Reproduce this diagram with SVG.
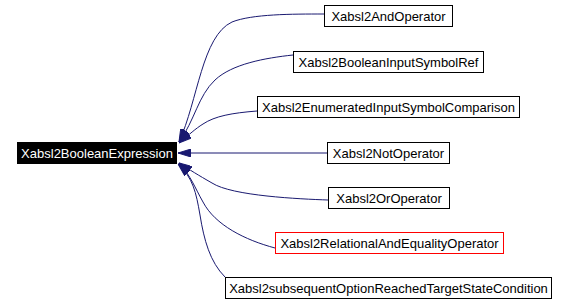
<svg xmlns="http://www.w3.org/2000/svg" width="567" height="305" viewBox="0 0 567 305">
<style>
.box{fill:#ffffff;stroke:#000000;stroke-width:1}
.red{fill:#ffffff;stroke:#ff0000;stroke-width:1}
.main{fill:#000000;stroke:#000000;stroke-width:1}
text{font-family:"Liberation Sans",Arial,sans-serif;font-size:13px;text-anchor:middle}
.edge{fill:none;stroke:#191970;stroke-width:1}
</style>
<defs>
<marker id="ah" viewBox="0 0 13 8" refX="13" refY="4" markerWidth="13" markerHeight="8" markerUnits="userSpaceOnUse" orient="auto">
<path d="M0,0 L13,4 L0,8 Z" fill="#191970" stroke="#191970"/>
</marker>
</defs>
<rect width="567" height="305" fill="#ffffff"/>
<g id="edges">
<path class="edge" marker-end="url(#ah)" d="M324,14 C292,14 252,14 232,22 C202,36 198,100 179,142"/>
<path class="edge" marker-end="url(#ah)" d="M293,55 C265,58 232,64 215,80 C198,96 195,120 179,142"/>
<path class="edge" marker-end="url(#ah)" d="M257,111 C232,113 215,116 203,124 C195,129 190,134 179,143"/>
<path class="edge" marker-end="url(#ah)" d="M327,153 L178,153"/>
<path class="edge" marker-end="url(#ah)" d="M328,200 C300,199 232,196 212,183 C198,175 190,170 179,163"/>
<path class="edge" marker-end="url(#ah)" d="M275,248 C245,240 215,225 203,202 C195,188 191,176 179,163"/>
<path class="edge" marker-end="url(#ah)" d="M225,277 C210,262 204,240 200,215 C196,192 193,178 178,164"/>
</g>
<g id="Xabsl2BooleanExpression">
<rect class="main" x="17.5" y="142.5" width="159" height="21"/>
<text x="97" y="157.5" fill="#ffffff">Xabsl2BooleanExpression</text>
</g>
<g id="Xabsl2AndOperator">
<rect class="box" x="324.5" y="5.5" width="128" height="21"/>
<text x="388.5" y="20.5">Xabsl2AndOperator</text>
</g>
<g id="Xabsl2BooleanInputSymbolRef">
<rect class="box" x="293.5" y="51.5" width="190" height="21"/>
<text x="388.5" y="66.5">Xabsl2BooleanInputSymbolRef</text>
</g>
<g id="Xabsl2EnumeratedInputSymbolComparison">
<rect class="box" x="257.5" y="96.5" width="262" height="21"/>
<text x="388.5" y="111.5">Xabsl2EnumeratedInputSymbolComparison</text>
</g>
<g id="Xabsl2NotOperator">
<rect class="box" x="327.5" y="142.5" width="122" height="21"/>
<text x="388.5" y="157.5">Xabsl2NotOperator</text>
</g>
<g id="Xabsl2OrOperator">
<rect class="box" x="328.5" y="187.5" width="121" height="21"/>
<text x="389" y="202.5">Xabsl2OrOperator</text>
</g>
<g id="Xabsl2RelationalAndEqualityOperator">
<rect class="red" x="275.5" y="232.5" width="228" height="21"/>
<text x="389.5" y="247.5">Xabsl2RelationalAndEqualityOperator</text>
</g>
<g id="Xabsl2subsequentOptionReachedTargetStateCondition">
<rect class="box" x="225.5" y="277.5" width="326" height="21"/>
<text x="388.5" y="292.5">Xabsl2subsequentOptionReachedTargetStateCondition</text>
</g>
</svg>
